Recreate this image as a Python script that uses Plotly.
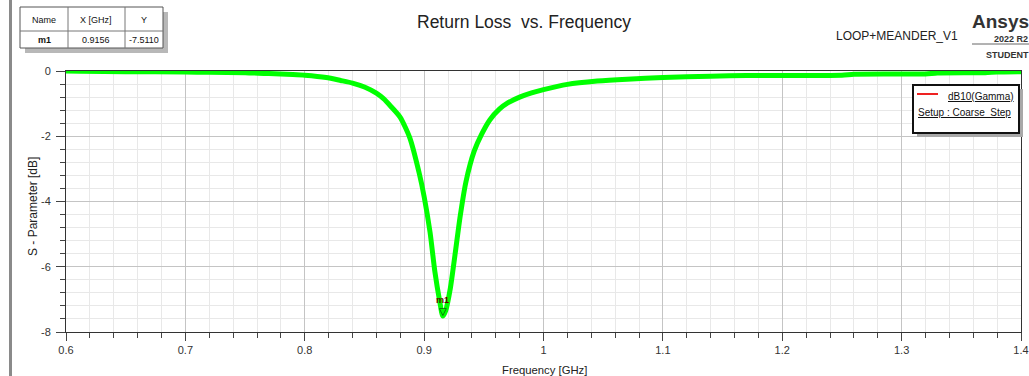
import plotly.graph_objects as go

# ---- data ----
freq_ghz = [0.600, 0.612, 0.650, 0.700, 0.720, 0.750, 0.770, 0.790, 0.800, 0.818,
            0.830, 0.840, 0.850, 0.860, 0.866, 0.872, 0.880, 0.888, 0.896, 0.900,
            0.905, 0.909, 0.913, 0.9156, 0.918, 0.922, 0.926, 0.930, 0.935, 0.942,
            0.948, 0.955, 0.963, 0.970, 0.980, 0.990, 1.000, 1.020, 1.045, 1.070,
            1.100, 1.140, 1.170, 1.250, 1.260, 1.320, 1.330, 1.370, 1.380, 1.400]
db10_gamma = [0.00, -0.01, -0.02, -0.03, -0.04, -0.05, -0.08, -0.11, -0.13, -0.20,
              -0.29, -0.37, -0.49, -0.68, -0.85, -1.08, -1.42, -2.05, -3.15, -3.85,
              -4.95, -6.15, -7.05, -7.511, -7.35, -6.65, -5.60, -4.50, -3.40, -2.45,
              -1.95, -1.50, -1.17, -0.98, -0.80, -0.67, -0.57, -0.41, -0.31, -0.25,
              -0.20, -0.16, -0.14, -0.13, -0.10, -0.09, -0.06, -0.05, -0.03, -0.02]
marker_name = "m1"
marker_x = 0.9156
marker_y = -7.5110
x_ticks = [0.6, 0.7, 0.8, 0.9, 1.0, 1.1, 1.2, 1.3, 1.4]
y_ticks = [0, -2, -4, -6, -8]

W, H = 1029, 376
L, R, T, B = 66, 1021, 71, 332
FONT = "Arial, Liberation Sans, sans-serif"


def px(x):
    return (x - L) / (R - L)


def py(y):
    return (B - y) / (B - T)


fig = go.Figure()
fig.add_trace(go.Scatter(x=freq_ghz, y=db10_gamma, mode="lines", name="dB10(Gamma)",
                         line=dict(color="#00ff00", width=5, shape="spline", smoothing=0.6),
                         showlegend=False, hoverinfo="x+y"))

shapes = []
annotations = []

# left gray bar
shapes.append(dict(type="rect", xref="paper", yref="paper", x0=px(9), x1=px(12), y0=py(H), y1=py(0),
                   fillcolor="#8a8a8a", line=dict(width=0), layer="above"))

# marker table (shadow + box)
tx0, tx1, ty0, ty1 = 20, 163, 7, 48
shapes.append(dict(type="rect", xref="paper", yref="paper", x0=px(tx0 + 5), x1=px(tx1 + 5),
                   y0=py(ty1 + 5), y1=py(ty0 + 5), fillcolor="#b8b8b8", line=dict(width=0)))
shapes.append(dict(type="rect", xref="paper", yref="paper", x0=px(tx0), x1=px(tx1),
                   y0=py(ty1), y1=py(ty0), fillcolor="white", line=dict(color="#555", width=1)))
for cx in (68, 125):
    shapes.append(dict(type="line", xref="paper", yref="paper", x0=px(cx), x1=px(cx),
                       y0=py(ty1), y1=py(ty0), line=dict(color="#777", width=1)))
shapes.append(dict(type="line", xref="paper", yref="paper", x0=px(tx0), x1=px(tx1),
                   y0=py(31), y1=py(31), line=dict(color="#777", width=1)))
table_cells = [("Name", 44, 20, False), ("X [GHz]", 96, 20, False), ("Y", 144, 20, False),
               (marker_name, 44, 40, True), (f"{marker_x:.4f}", 96, 40, False),
               (f"{marker_y:.4f}", 144, 40, False)]
for txt, cx, cy, bold in table_cells:
    annotations.append(dict(xref="paper", yref="paper", x=px(cx), y=py(cy), showarrow=False,
                            text=f"<b>{txt}</b>" if bold else txt, xanchor="center", yanchor="middle",
                            font=dict(size=9, color="#111", family=FONT)))

# legend box
lx0, lx1, ly0, ly1 = 913, 1019, 85, 133
shapes.append(dict(type="rect", xref="paper", yref="paper", x0=px(lx0 + 4), x1=px(lx1 + 4),
                   y0=py(ly1 + 4), y1=py(ly0 + 4), fillcolor="#a8a8a8", line=dict(width=0), layer="above"))
shapes.append(dict(type="rect", xref="paper", yref="paper", x0=px(lx0), x1=px(lx1),
                   y0=py(ly1), y1=py(ly0), fillcolor="white", line=dict(color="#111", width=2), layer="above"))
shapes.append(dict(type="line", xref="paper", yref="paper", x0=px(917), x1=px(938),
                   y0=py(94), y1=py(94), line=dict(color="#ee2222", width=2), layer="above"))
annotations.append(dict(xref="paper", yref="paper", x=px(1016), y=py(96), showarrow=False,
                        text="<u>dB10(Gamma)</u>", xanchor="right", yanchor="middle",
                        font=dict(size=10, color="#111", family=FONT)))
annotations.append(dict(xref="paper", yref="paper", x=px(916), y=py(112), showarrow=False,
                        text="<u>Setup : Coarse\u00a0 Step</u>", xanchor="left", yanchor="middle",
                        font=dict(size=10, color="#111", family=FONT)))

# titles
annotations.append(dict(xref="paper", yref="paper", x=px(524), y=py(22), showarrow=False,
                        text="Return Loss\u00a0 vs. Frequency", xanchor="center", yanchor="middle",
                        font=dict(size=17.5, color="#222", family=FONT)))
annotations.append(dict(xref="paper", yref="paper", x=px(897), y=py(36), showarrow=False,
                        text="LOOP+MEANDER_V1", xanchor="center", yanchor="middle",
                        font=dict(size=12, color="#222", family=FONT)))
annotations.append(dict(xref="paper", yref="paper", x=px(1031), y=py(22), showarrow=False,
                        text="<b>Ansys</b>", xanchor="right", yanchor="middle",
                        font=dict(size=19, color="#333", family=FONT)))
annotations.append(dict(xref="paper", yref="paper", x=px(1030), y=py(39), showarrow=False,
                        text="<b>2022 R2</b>", xanchor="right", yanchor="middle",
                        font=dict(size=9, color="#333", family=FONT)))
shapes.append(dict(type="line", xref="paper", yref="paper", x0=px(972), x1=px(1029),
                   y0=py(44), y1=py(44), line=dict(color="#666", width=1)))
annotations.append(dict(xref="paper", yref="paper", x=px(1031), y=py(55), showarrow=False,
                        text="<b>STUDENT</b>", xanchor="right", yanchor="middle",
                        font=dict(size=9, color="#333", family=FONT)))

# axis titles
annotations.append(dict(xref="paper", yref="paper", x=px(544), y=py(370), showarrow=False,
                        text="Frequency [GHz]", xanchor="center", yanchor="middle",
                        font=dict(size=11.3, color="#222", family=FONT)))
annotations.append(dict(xref="paper", yref="paper", x=px(33), y=py(207), showarrow=False,
                        text="S - Parameter [dB]", xanchor="center", yanchor="middle", textangle=-90,
                        font=dict(size=12, color="#222", family=FONT)))

# marker m1
annotations.append(dict(xref="x", yref="y", x=marker_x, y=marker_y, showarrow=False,
                        text="▽", xanchor="center", yanchor="bottom", yshift=-3,
                        font=dict(size=10, color="#111", family="DejaVu Sans")))
annotations.append(dict(xref="x", yref="y", x=marker_x, y=marker_y, showarrow=False,
                        text="<b>" + marker_name + "</b>", xanchor="center", yanchor="bottom", yshift=9,
                        font=dict(size=9, color="#5a0000", family=FONT)))

fig.update_layout(
    width=W, height=H, autosize=False,
    margin=dict(l=L, r=W - R, t=T, b=H - B, pad=0, autoexpand=False),
    paper_bgcolor="white", plot_bgcolor="white",
    font=dict(family=FONT, size=11, color="#333"),
    shapes=shapes, annotations=annotations, showlegend=False,
    xaxis=dict(range=[0.6, 1.4], tickvals=x_ticks, ticktext=[f"{v:g}" for v in x_ticks],
               automargin=False,
               ticks="outside", ticklen=8, tickcolor="#444", showline=True, linecolor="#333",
               linewidth=1, mirror=True, showgrid=True, gridcolor="#c4c4c4", gridwidth=1,
               zeroline=False, tickfont=dict(size=11, color="#333"),
               minor=dict(dtick=0.02, tick0=0.6, ticks="outside", ticklen=5, tickcolor="#444",
                          showgrid=True, gridcolor="#e8e8e8", gridwidth=1)),
    yaxis=dict(range=[-8, 0], tickvals=y_ticks, ticktext=[f"{v:g}" for v in y_ticks],
               automargin=False,
               ticks="outside", ticklen=9, tickcolor="#444", showline=True, linecolor="#333",
               linewidth=1, mirror=True, showgrid=True, gridcolor="#c4c4c4", gridwidth=1,
               zeroline=False, tickfont=dict(size=11, color="#333"), ticklabelstandoff=3,
               minor=dict(dtick=0.4, tick0=0, ticks="outside", ticklen=5, tickcolor="#444",
                          showgrid=True, gridcolor="#e8e8e8", gridwidth=1)),
)

fig.write_html("out.html", config={"displayModeBar": False},
               post_script="document.body.style.margin='0';document.body.style.overflow='hidden';")
